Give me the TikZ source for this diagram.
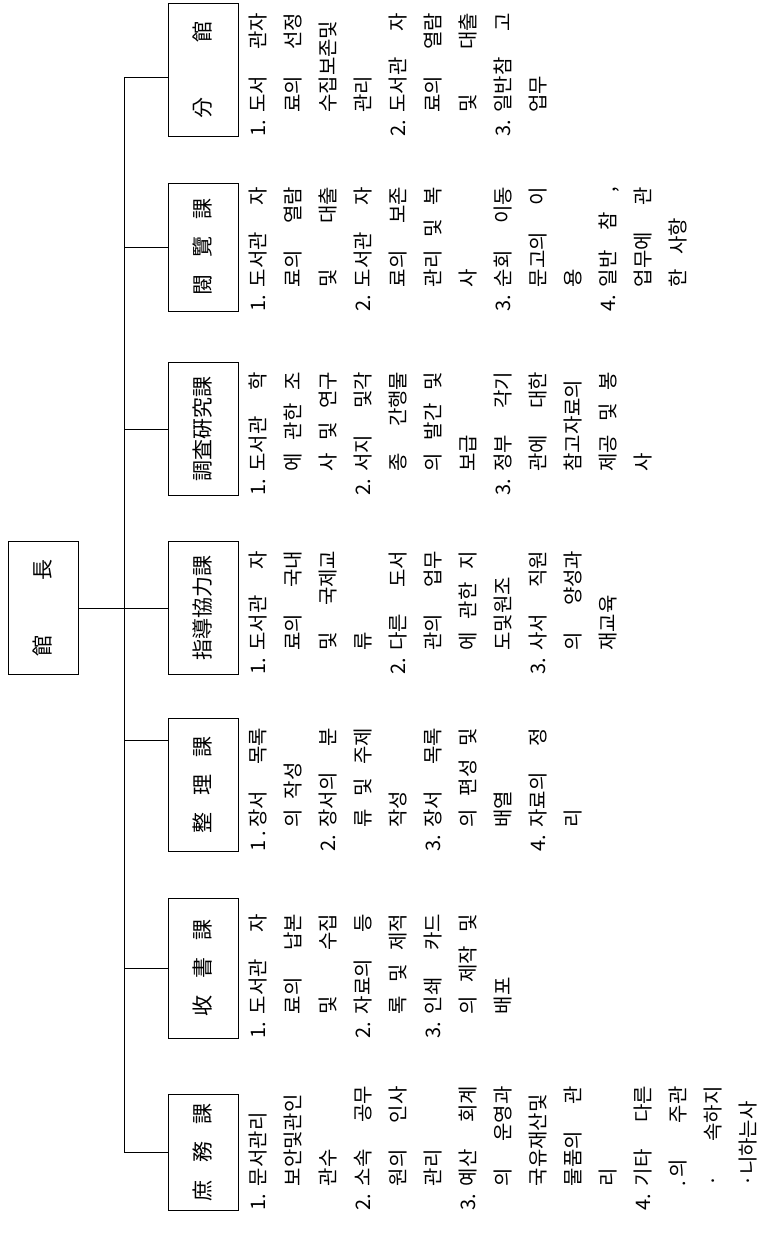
\documentclass[tikz,border=0pt]{standalone}
\usepackage{fontspec}
\setmainfont{Noto Sans CJK KR}
\usetikzlibrary{calc}
\newlength\labw \setlength\labw{24pt}
\newlength\bodyw \setlength\bodyw{100pt}
\newcommand\itemJ[2]{\makebox[\labw][l]{#1}\makebox[\bodyw][s]{#2}}
\newcommand\itemN[2]{\makebox[\labw][l]{#1}#2}
\newcommand\contJ[1]{\hspace*{\labw}\makebox[\bodyw][s]{#1}}
\newcommand\contN[1]{\hspace*{\labw}#1}
\newcommand\spreadtxt[1]{\makebox[98pt][s]{#1}}
\begin{document}
\begin{tikzpicture}[x=1pt,y=1pt,
  unit/.style={draw, line width=0.8pt, minimum width=133pt, minimum height=70pt, inner sep=0pt, font=\fontsize{21}{24}\selectfont},
  duty/.style={anchor=north west, align=left, inner sep=0pt, font=\fontsize{20}{35}\selectfont},
  link/.style={line width=0.8pt}]
\fill[white] (0,0) rectangle (765,1240);
\useasboundingbox (0,0) rectangle (765,1240);
\begin{scope}[rotate=90, transform shape]
% head
\node[unit] (head) at (632,-43) {\spreadtxt{館\hfill 長}};
% units
\node[unit, minimum width=116pt] (u1) at (88,-203) {\spreadtxt{庶\hfill 務\hfill 課}};
\node[unit, minimum width=140pt] (u2) at (272,-203) {\spreadtxt{收\hfill 書\hfill 課}};
\node[unit] (u3) at (455,-203) {\spreadtxt{整\hfill 理\hfill 課}};
\node[unit] (u4) at (632,-203) {指導協力課};
\node[unit] (u5) at (811,-203) {調査硏究課};
\node[unit, minimum width=128pt] (u6) at (993,-203) {\spreadtxt{閱\hfill 覽\hfill 課}};
\node[unit] (u7) at (1170,-203) {\spreadtxt{分\hfill 館}};
% bus
\coordinate (j1) at (88,-124);
\coordinate (j2) at (272,-124);
\coordinate (j3) at (500,-124);
\coordinate (j5) at (811,-124);
\coordinate (j6) at (993,-124);
\coordinate (j7) at (1163,-124);
\draw[link] (j1) -- (j7);
\draw[link] (head) -- (u4);
\draw[link] (j1) -- (u1);
\draw[link] (j2) -- (u2);
\draw[link] (j3) -- (j3 |- u3.north);
\draw[link] (j5) -- (u5);
\draw[link] (j6) -- (u6);
\draw[link] (j7) -- (j7 |- u7.north);
% duties
\node[duty] (d1) at ($(u1.south west)+(0,-10)$) {%
\itemN{1.}{문서관리}\\
\contN{보안및관인}\\
\contN{관수}\\
\itemJ{2.}{소속 공무}\\
\contJ{원의 인사}\\
\contN{관리}\\
\itemJ{3.}{예산 회계}\\
\contJ{의 운영과}\\
\contN{국유재산및}\\
\contJ{물품의 관}\\
\contN{리}\\
\itemJ{4.}{기타 다른}\\
\contJ{.\,의 주관}\\
\contJ{· 속하지}\\
\contN{·니하는사}};
\node[duty] (d2) at ($(u2.south west)+(0,-10)$) {%
\itemJ{1.}{도서관 자}\\
\contJ{료의 납본}\\
\contJ{및 수집}\\
\itemJ{2.}{자료의 등}\\
\contJ{록 및 제적}\\
\itemJ{3.}{인쇄 카드}\\
\contJ{의 제작 및}\\
\contN{배포}};
\node[duty] (d3) at ($(u3.south west)+(0,-10)$) {%
\itemJ{1 .}{장서 목록}\\
\contN{의\hspace{10pt}작성}\\
\itemJ{2.}{장서의 분}\\
\contJ{류 및 주제}\\
\contN{작성}\\
\itemJ{3.}{장서 목록}\\
\contJ{의 편성 및}\\
\contN{배열}\\
\itemJ{4.}{자료의 정}\\
\contN{리}};
\node[duty] (d4) at ($(u4.south west)+(0,-10)$) {%
\itemJ{1.}{도서관 자}\\
\contJ{료의 국내}\\
\contJ{및 국제교}\\
\contN{류}\\
\itemJ{2.}{다른 도서}\\
\contJ{관의 업무}\\
\contJ{에 관한 지}\\
\contN{도및원조}\\
\itemJ{3.}{사서 직원}\\
\contJ{의 양성과}\\
\contN{재교육}};
\node[duty] (d5) at ($(u5.south west)+(0,-10)$) {%
\itemJ{1.}{도서관 학}\\
\contJ{에 관한 조}\\
\contJ{사 및 연구}\\
\itemJ{2.}{서지 및각}\\
\contJ{종 간행물}\\
\contJ{의 발간 및}\\
\contN{보급}\\
\itemJ{3.}{정부 각기}\\
\contJ{관에 대한}\\
\contN{참고자료의}\\
\contJ{제공 및 봉}\\
\contN{사}};
\node[duty] (d6) at ($(u6.south west)+(0,-10)$) {%
\itemJ{1.}{도서관 자}\\
\contJ{료의 열람}\\
\contJ{및 대출}\\
\itemJ{2.}{도서관 자}\\
\contJ{료의 보존}\\
\contJ{관리 및 복}\\
\contN{사}\\
\itemJ{3.}{순회 이동}\\
\contJ{문고의 이}\\
\contN{용}\\
\itemJ{4.}{일반 참 ,}\\
\contJ{업무에 관}\\
\contN{한\hspace{14pt}사항}};
\node[duty] (d7) at ($(u7.south west)+(0,-10)$) {%
\itemJ{1.}{도서 관자}\\
\contJ{료의 선정}\\
\contN{수집보존및}\\
\contN{관리}\\
\itemJ{2.}{도서관 자}\\
\contJ{료의 열람}\\
\contJ{및 대출}\\
\itemJ{3.}{일반참 고}\\
\contN{업무}};
\end{scope}
\end{tikzpicture}
\end{document}
